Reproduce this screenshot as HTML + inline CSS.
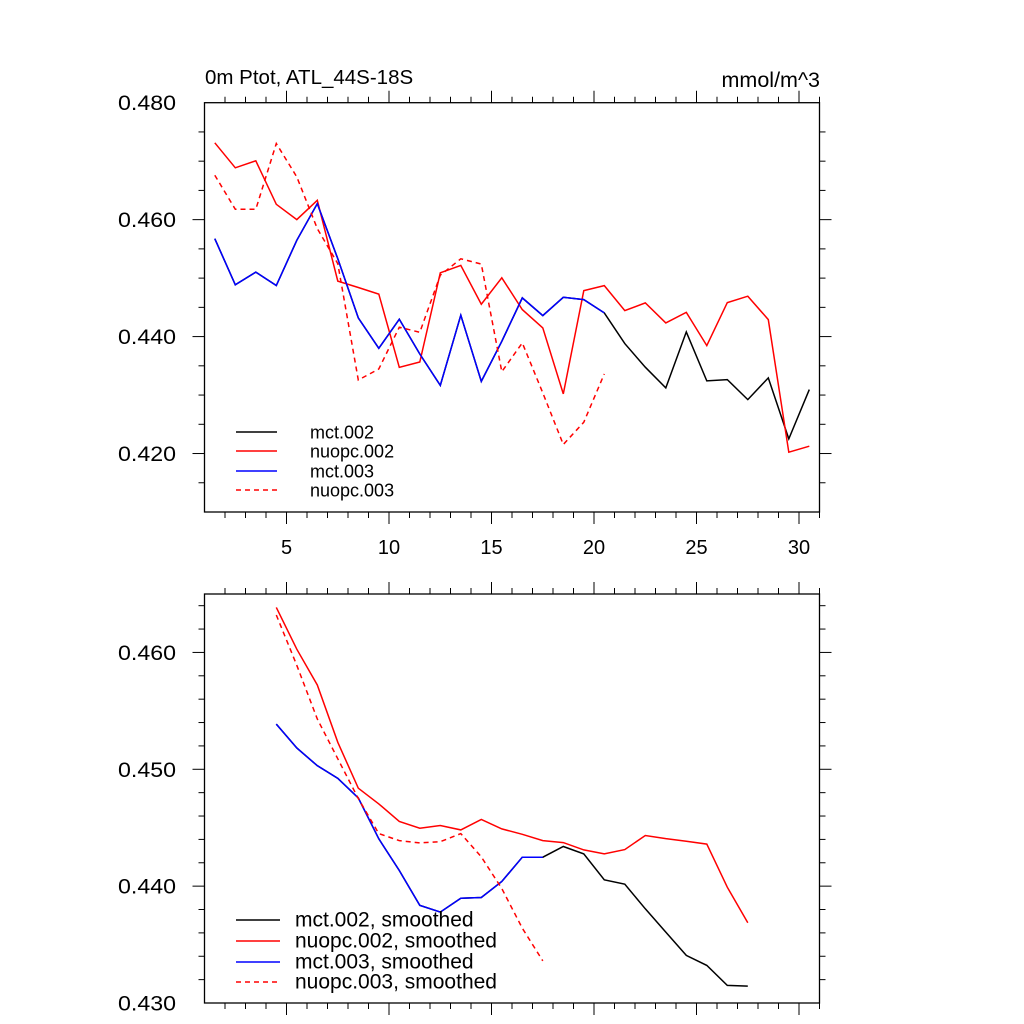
<!DOCTYPE html>
<html><head><meta charset="utf-8"><style>
body{margin:0;background:#fff;}
svg{display:block;font-family:"Liberation Sans",sans-serif;}
</style></head><body>
<svg id="chart" width="1024" height="1024" viewBox="0 0 1024 1024" xmlns="http://www.w3.org/2000/svg">
<text x="205" y="84" font-size="20.5">0m Ptot, ATL_44S-18S</text>
<text x="820" y="87" font-size="21.5" text-anchor="end">mmol/m^3</text>
<g id="top"></g><g id="bot"></g>
</svg>
<script>
const topX = [1.5,2.5,3.5,4.5,5.5,6.5,7.5,8.5,9.5,10.5,11.5,12.5,13.5,14.5,15.5,16.5,17.5,18.5,19.5,20.5,21.5,22.5,23.5,24.5,25.5,26.5,27.5,28.5,29.5,30.5];
const mct002 = [0.45674,0.44886,0.45103,0.44874,0.45646,0.46274,0.45331,0.4432,0.438,0.44297,0.43703,0.43166,0.44366,0.43234,0.4392,0.44661,0.44359,0.44672,0.44632,0.44405,0.4388,0.43476,0.43123,0.4408,0.43242,0.43265,0.42923,0.43294,0.42251,0.43094];
const nuopc002 = [0.47314,0.46886,0.47006,0.46263,0.46,0.46331,0.44949,0.4484,0.44726,0.43474,0.43566,0.45091,0.45217,0.44554,0.45006,0.44462,0.44149,0.4302,0.44786,0.44872,0.44444,0.44576,0.44234,0.44416,0.43846,0.44581,0.4469,0.44291,0.42022,0.42125];
const mct003 = [0.45674,0.44886,0.45103,0.44874,0.45646,0.46274,0.45331,0.4432,0.438,0.44297,0.43703,0.43166,0.44366,0.43234,0.4392,0.44661,0.44359,0.44672,0.44632,0.44405];
const nuopc003 = [0.4676,0.46177,0.46177,0.47303,0.46731,0.45846,0.45246,0.43257,0.43446,0.4416,0.44074,0.4505,0.4533,0.4524,0.434,0.43892,0.43037,0.42154,0.42535,0.43362];
const botX = [4.5,5.5,6.5,7.5,8.5,9.5,10.5,11.5,12.5,13.5,14.5,15.5,16.5,17.5,18.5,19.5,20.5,21.5,22.5,23.5,24.5,25.5,26.5,27.5];
const mct002s = [0.45387,0.45182,0.45031,0.44923,0.44755,0.44405,0.44134,0.43835,0.43778,0.43897,0.43903,0.4404,0.44248,0.44248,0.44339,0.44276,0.44054,0.44017,0.43806,0.43607,0.43407,0.43322,0.43151,0.43145];
const nuopc002s = [0.46385,0.46028,0.45721,0.45231,0.44838,0.44704,0.44553,0.44496,0.44519,0.44481,0.4457,0.4449,0.44444,0.4439,0.44373,0.4431,0.44276,0.44313,0.44433,0.44407,0.44385,0.4436,0.43991,0.43687];
const mct003s = [0.45387,0.45182,0.45031,0.44923,0.44755,0.44405,0.44134,0.43835,0.43778,0.43897,0.43903,0.4404,0.44248,0.44248];
const nuopc003s = [0.4632,0.4589,0.4543,0.4509,0.4475,0.4445,0.4439,0.4437,0.4438,0.4445,0.4425,0.4398,0.4364,0.4336];
const topYTicks = ["0.420","0.440","0.460","0.480"];
const botYTicks = ["0.430","0.440","0.450","0.460"];
const xTicks = ["5","10","15","20","25","30"];

const NS="http://www.w3.org/2000/svg";
function mk(parent,tag,attrs){const e=document.createElementNS(NS,tag);for(const k in attrs)e.setAttribute(k,attrs[k]);parent.appendChild(e);return e;}
function panel(g,name,y0,y1,ymin,ymax,yMinorStep,xLabels,series){
  const x0=204.5,x1=819.5,xmin=1,xmax=31;
  const sx=v=>x0+(v-xmin)/(xmax-xmin)*(x1-x0);
  const sy=v=>y1-(v-ymin)/(ymax-ymin)*(y1-y0);
  const frame=mk(g,'rect',{x:x0,y:y0,width:x1-x0,height:y1-y0,fill:'none',stroke:'#000','stroke-width':1.3});
  
  
  for(let v=2;v<=31;v++){
    const maj=v%5===0,L=maj?12:6,X=sx(v);
    const t1=mk(g,'line',{x1:X,x2:X,y1:y1,y2:y1+L,stroke:'#000','stroke-width':1});
    
    
    const t2=mk(g,'line',{x1:X,x2:X,y1:y0,y2:y0-L,stroke:'#000','stroke-width':1});
    
    
  }
  if(xLabels){xLabels.forEach(l=>{const t=mk(g,'text',{x:sx(+l),y:y1+42,'font-size':20,'text-anchor':'middle'});t.textContent=l;
    
    });}
  const n=Math.round((ymax-ymin)/yMinorStep);
  for(let i=1;i<n;i++){
    const v=ymin+i*yMinorStep,Y=sy(v);
    const maj=(name==='top'?(i%4===2):(i%5===0));
    const L=maj?12:6;
    const a=mk(g,'line',{x1:x0,x2:x0-L,y1:Y,y2:Y,stroke:'#000','stroke-width':1});
    
    
    const b=mk(g,'line',{x1:x1,x2:x1+L,y1:Y,y2:Y,stroke:'#000','stroke-width':1});
    
    
  }
  series.forEach(s=>{
    const d=s.v.map((v,i)=>(i?'L':'M')+sx(s.x[i]).toFixed(1)+','+sy(v).toFixed(1)).join('');
    const p=mk(g,'path',{d:d,fill:'none',stroke:s.c,'stroke-width':1.5});
    if(s.dash)p.setAttribute('stroke-dasharray','5,4');
    
    
  });
}
function yLabels(g,name,labels,ymin,ymax,y0,y1){
  labels.forEach(l=>{const Y=y1-(+l-ymin)/(ymax-ymin)*(y1-y0);const t=mk(g,'text',{x:118,y:Y+7.5,'font-size':21,textLength:58,lengthAdjust:'spacingAndGlyphs'});t.textContent=l;
    
    });
}
function legendDraw(g,name,items,ys,lx1,lx2,tx,fs){
  items.forEach((it,i)=>{
    const l=mk(g,'line',{x1:lx1,x2:lx2,y1:ys[i],y2:ys[i],stroke:it.c,'stroke-width':1.5});
    if(it.dash)l.setAttribute('stroke-dasharray','5,4');
    
    
    const t=mk(g,'text',{x:tx,y:ys[i]+6.5,'font-size':fs});t.textContent=it.t;
    
    
  });
}
const gt=document.getElementById('top'),gb=document.getElementById('bot');
panel(gt,'top',102.7,512,0.41,0.48,0.005,xTicks,[
 {id:'mct002',x:topX,v:mct002,c:'#000'},
 {id:'nuopc002',x:topX,v:nuopc002,c:'#f00'},
 {id:'mct003',x:topX,v:mct003,c:'#00f'},
 {id:'nuopc003',x:topX,v:nuopc003,c:'#f00',dash:true}]);
yLabels(gt,'top',topYTicks,0.41,0.48,102.7,512);
legendDraw(gt,'top',[{t:'mct.002',c:'#000'},{t:'nuopc.002',c:'#f00'},{t:'mct.003',c:'#00f'},{t:'nuopc.003',c:'#f00',dash:true}],[432,451,471,490],236,277,310,18);
panel(gb,'bottom',594,1003,0.43,0.465,0.002,null,[
 {id:'mct002s',x:botX,v:mct002s,c:'#000'},
 {id:'nuopc002s',x:botX,v:nuopc002s,c:'#f00'},
 {id:'mct003s',x:botX,v:mct003s,c:'#00f'},
 {id:'nuopc003s',x:botX,v:nuopc003s,c:'#f00',dash:true}]);
yLabels(gb,'bottom',botYTicks,0.43,0.465,594,1003);
legendDraw(gb,'bottom',[{t:'mct.002, smoothed',c:'#000'},{t:'nuopc.002, smoothed',c:'#f00'},{t:'mct.003, smoothed',c:'#00f'},{t:'nuopc.003, smoothed',c:'#f00',dash:true}],[920,941,962,982],236,280,295,21);
</script>
</body></html>
